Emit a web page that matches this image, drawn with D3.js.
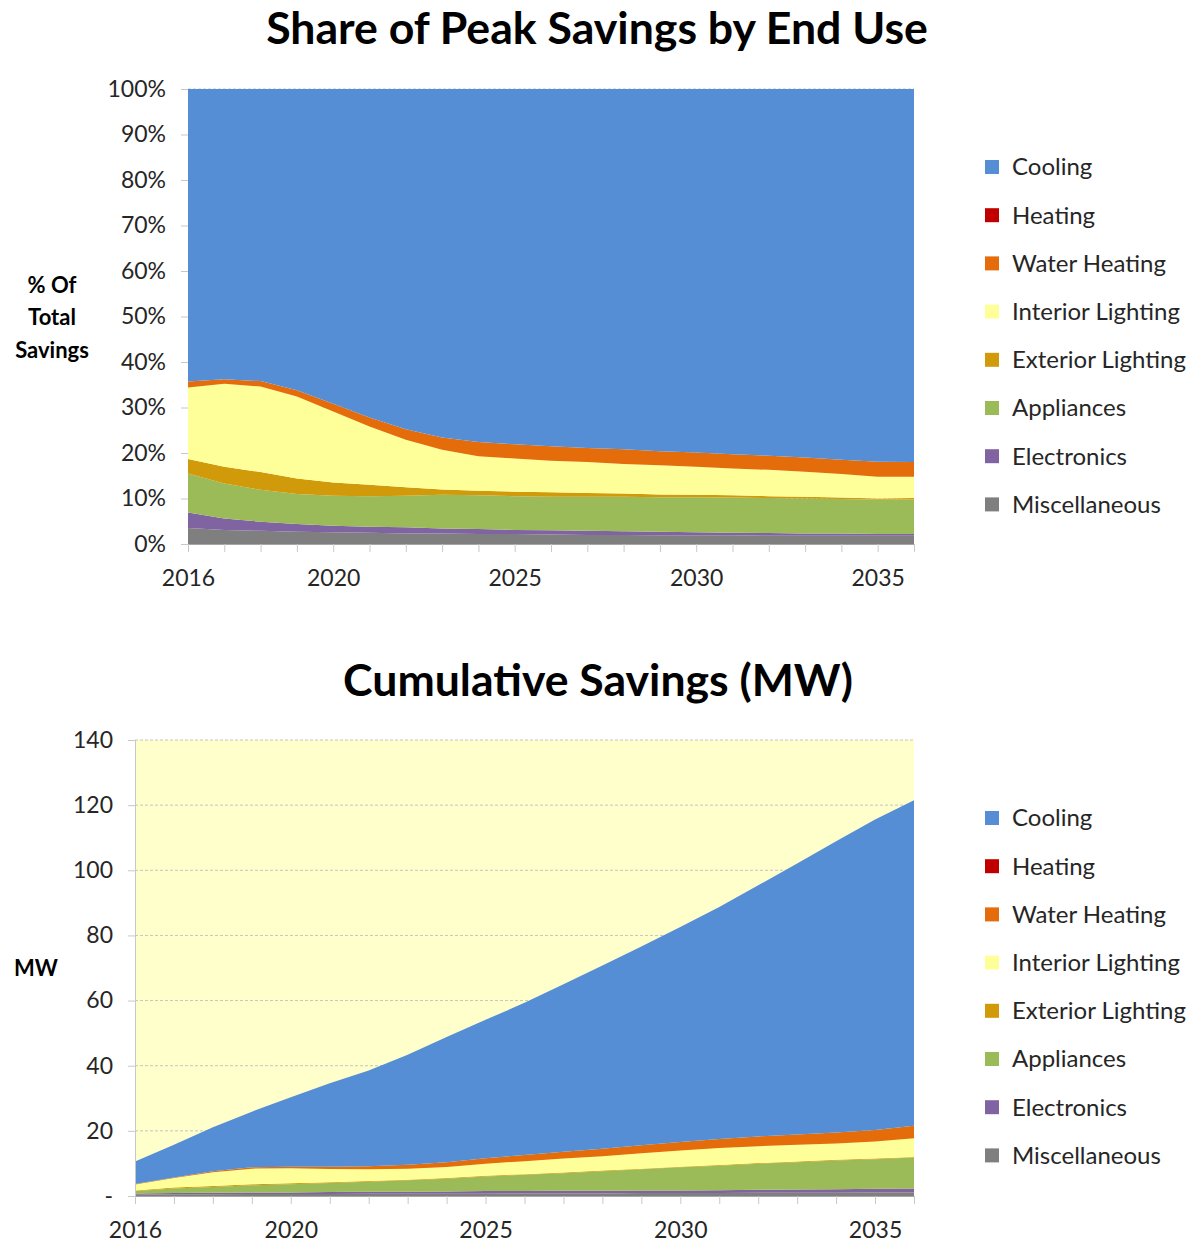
<!DOCTYPE html>
<html>
<head>
<meta charset="utf-8">
<script src="https://cdn.jsdelivr.net/npm/d3@7"></script>
<style>
  body { margin: 0; background: #fff; }
  svg { display: block; font-family: Lato, "Open Sans", sans-serif; }
</style>
</head>
<body>
<svg id="chart" width="1197" height="1245"></svg>
<script>
const years = [2016, 2017, 2018, 2019, 2020, 2021, 2022, 2023, 2024, 2025, 2026,
  2027, 2028, 2029, 2030, 2031, 2032, 2033, 2034, 2035, 2036];
const yearLabels = [2016, 2020, 2025, 2030, 2035];

const endUses = ["Cooling", "Heating", "Water Heating", "Interior Lighting",
  "Exterior Lighting", "Appliances", "Electronics", "Miscellaneous"];
const endUseColors = ["#558ed5", "#c00000", "#e46c0a", "#ffff99",
  "#d09a0a", "#9bbb59", "#8064a2", "#7f7f7f"];

// share of peak savings, % of total (top chart)
const shareCooling = [64.3, 63.8, 64.2, 66.2, 69.2, 72.2, 74.8, 76.6, 77.6, 78.1, 78.5,
  78.9, 79.2, 79.6, 79.9, 80.3, 80.6, 81.0, 81.5, 81.9, 82.0];
const shareHeating = [0, 0, 0, 0, 0, 0, 0, 0, 0, 0, 0, 0, 0, 0, 0, 0, 0, 0, 0, 0, 0];
const shareWaterHeating = [1.3, 1.0, 1.2, 1.4, 1.7, 2.0, 2.3, 2.7, 3.1, 3.1, 3.2,
  3.1, 3.2, 3.1, 3.1, 3.1, 3.1, 3.1, 3.1, 3.3, 3.2];
const shareInteriorLighting = [15.7, 18.2, 18.8, 18.0, 15.6, 12.8, 10.4, 8.7, 7.6, 7.3, 6.9,
  6.8, 6.5, 6.4, 6.2, 5.9, 5.8, 5.5, 5.2, 4.8, 4.7];
const shareExteriorLighting = [3.2, 3.7, 3.9, 3.4, 2.9, 2.5, 1.9, 1.2, 1.0, 1.0, 1.0,
  0.8, 0.7, 0.6, 0.5, 0.5, 0.4, 0.4, 0.3, 0.3, 0.3];
const shareAppliances = [8.6, 7.7, 7.0, 6.6, 6.6, 6.7, 6.9, 7.4, 7.4, 7.4, 7.4,
  7.5, 7.6, 7.6, 7.7, 7.7, 7.7, 7.7, 7.6, 7.5, 7.6];
const shareElectronics = [3.4, 2.5, 2.0, 1.7, 1.4, 1.3, 1.4, 1.1, 1.1, 0.9, 0.9,
  0.9, 0.8, 0.8, 0.7, 0.6, 0.6, 0.5, 0.5, 0.4, 0.4];
const shareMiscellaneous = [3.5, 3.1, 2.9, 2.7, 2.6, 2.5, 2.3, 2.3, 2.2, 2.2, 2.1,
  2.0, 2.0, 1.9, 1.9, 1.9, 1.8, 1.8, 1.8, 1.8, 1.8];

// cumulative savings, MW (bottom chart)
const mwCooling = [6.9, 10.0, 13.5, 17.1, 21.3, 25.6, 29.4, 33.8, 38.4, 42.5, 46.7,
  51.4, 56.3, 61.0, 66.0, 71.2, 77.1, 83.2, 89.4, 95.3, 99.9];
const mwHeating = [0, 0, 0, 0, 0, 0, 0, 0, 0, 0, 0, 0, 0, 0, 0, 0, 0, 0, 0, 0, 0];
const mwWaterHeating = [0.2, 0.2, 0.3, 0.4, 0.5, 0.7, 0.9, 1.2, 1.5, 1.7, 1.9,
  2.1, 2.3, 2.5, 2.6, 2.8, 3.0, 3.2, 3.4, 3.6, 3.9];
const mwInteriorLighting = [1.8, 2.9, 4.2, 4.8, 4.6, 4.1, 3.6, 3.4, 3.4, 3.7, 4.0,
  4.3, 4.4, 4.7, 5.0, 5.2, 5.2, 5.1, 5.0, 5.2, 5.7];
const mwExteriorLighting = [0.2, 0.3, 0.3, 0.3, 0.3, 0.2, 0.2, 0.2, 0.2, 0.2, 0.2,
  0.2, 0.2, 0.2, 0.2, 0.2, 0.2, 0.2, 0.2, 0.2, 0.2];
const mwAppliances = [0.7, 1.4, 1.8, 2.2, 2.5, 2.8, 3.1, 3.5, 3.9, 4.5, 5.0,
  5.4, 6.0, 6.5, 7.1, 7.5, 8.0, 8.4, 8.8, 9.1, 9.5];
const mwElectronics = [0.4, 0.4, 0.5, 0.5, 0.5, 0.6, 0.6, 0.6, 0.7, 0.8, 0.7,
  0.8, 0.8, 0.8, 0.8, 0.9, 0.9, 1.0, 1.1, 1.1, 1.2];
const mwMiscellaneous = [0.4, 0.5, 0.5, 0.6, 0.6, 0.6, 0.7, 0.7, 0.7, 0.7, 0.8,
  0.8, 0.8, 0.9, 0.9, 0.9, 1.0, 1.0, 1.0, 1.1, 1.1];

const shareTicks = [0, 10, 20, 30, 40, 50, 60, 70, 80, 90, 100];
const mwTicks = [0, 20, 40, 60, 80, 100, 120, 140];

const svg = d3.select("#chart");
const color = d3.scaleOrdinal().domain(endUses).range(endUseColors);

function fitTitle(text, cx, y, targetWidth) {
  const t = svg.append("text")
    .attr("x", cx)
    .attr("y", y)
    .attr("text-anchor", "middle")
    .attr("font-weight", "bold")
    .attr("font-size", 40)
    .attr("fill", "#000")
    .text(text);
  const w = t.node().getComputedTextLength();
  t.attr("font-size", 40 * targetWidth / w);
}

function drawChart(opt) {
  const rows = years.map((year, i) => {
    const row = { year };
    endUses.forEach((k, j) => { row[k] = opt.series[j][i]; });
    return row;
  });

  const x = d3.scaleLinear().domain([2016, 2036]).range([opt.left, opt.right]);
  const y = d3.scaleLinear().domain([0, opt.yMax]).range([opt.bottom, opt.top]);

  const g = svg.append("g");

  if (opt.background) {
    g.append("rect")
      .attr("x", opt.left)
      .attr("y", opt.top)
      .attr("width", opt.right - opt.left)
      .attr("height", opt.bottom - opt.top)
      .attr("fill", opt.background);
  }

  // dashed gridlines
  g.append("g")
    .selectAll("line")
    .data(opt.yTicks.filter(d => d > 0))
    .enter()
    .append("line")
    .attr("x1", opt.left)
    .attr("x2", opt.right)
    .attr("y1", d => y(d))
    .attr("y2", d => y(d))
    .attr("stroke", "#c4c4c4")
    .attr("stroke-width", 1)
    .attr("stroke-dasharray", "3,2");

  const stacked = d3.stack().keys(endUses.slice().reverse())(rows);

  const area = d3.area()
    .x(d => x(d.data.year))
    .y0(d => y(d[0]))
    .y1(d => y(d[1]));

  g.append("g")
    .selectAll("path")
    .data(stacked)
    .enter()
    .append("path")
    .attr("d", area)
    .attr("fill", d => color(d.key));

  const yAxis = g.append("g")
    .attr("transform", `translate(${opt.left},0)`)
    .call(d3.axisLeft(y)
      .tickValues(opt.yTicks)
      .tickSize(7)
      .tickPadding(15)
      .tickFormat(opt.yFormat));

  const xAxis = g.append("g")
    .attr("transform", `translate(0,${opt.bottom})`)
    .call(d3.axisBottom(x)
      .tickValues(years)
      .tickSize(8)
      .tickFormat(d => yearLabels.includes(d) ? d : ""));

  [yAxis, xAxis].forEach(a => {
    a.selectAll("line").attr("stroke", "#c8c8c8");
    a.selectAll("text")
      .attr("font-family", "Lato, 'Open Sans', sans-serif")
      .attr("font-size", 23)
      .attr("fill", "#262626");
  });
  yAxis.select(".domain").attr("stroke", opt.showYDomain ? "#c8c8c8" : "none");
  xAxis.select(".domain").attr("stroke", "#a6a6a6");
  xAxis.selectAll("text").attr("y", 34).attr("dy", "0.35em");

  // y axis title
  const yl = svg.append("text")
    .attr("text-anchor", "middle")
    .attr("font-weight", "bold")
    .attr("font-size", 22)
    .attr("fill", "#000");
  opt.yLabel.forEach((line, i) => {
    yl.append("tspan")
      .attr("x", opt.yLabelX)
      .attr("y", opt.yLabelY + i * 32.5)
      .attr("dy", "0.35em")
      .text(line);
  });

  // legend
  const legend = svg.append("g")
    .attr("transform", `translate(985,${opt.legendY})`);

  endUses.forEach((name, i) => {
    const item = legend.append("g")
      .attr("transform", `translate(0,${i * 48.2})`);

    item.append("rect")
      .attr("y", -7)
      .attr("width", 14)
      .attr("height", 14)
      .attr("fill", color(name));

    item.append("text")
      .attr("x", 27)
      .attr("dy", "0.35em")
      .attr("font-size", 24)
      .attr("fill", "#262626")
      .text(name);
  });

  fitTitle(opt.title, opt.titleX, opt.titleY, opt.titleWidth);
}

drawChart({
  series: [shareCooling, shareHeating, shareWaterHeating, shareInteriorLighting,
    shareExteriorLighting, shareAppliances, shareElectronics, shareMiscellaneous],
  left: 188, right: 914, top: 89, bottom: 544,
  yMax: 100,
  yTicks: shareTicks,
  yFormat: d => d + "%",
  showYDomain: false,
  yLabel: ["% Of", "Total", "Savings"],
  yLabelX: 52, yLabelY: 285,
  legendY: 167,
  title: "Share of Peak Savings by End Use",
  titleX: 597, titleY: 44, titleWidth: 662
});

drawChart({
  series: [mwCooling, mwHeating, mwWaterHeating, mwInteriorLighting,
    mwExteriorLighting, mwAppliances, mwElectronics, mwMiscellaneous],
  left: 135, right: 914, top: 740, bottom: 1196,
  yMax: 140,
  yTicks: mwTicks,
  yFormat: d => d === 0 ? "-" : d,
  showYDomain: true,
  background: "#ffffcc",
  yLabel: ["MW"],
  yLabelX: 36, yLabelY: 968,
  legendY: 818,
  title: "Cumulative Savings (MW)",
  titleX: 598, titleY: 696, titleWidth: 510
});
</script>
</body>
</html>
